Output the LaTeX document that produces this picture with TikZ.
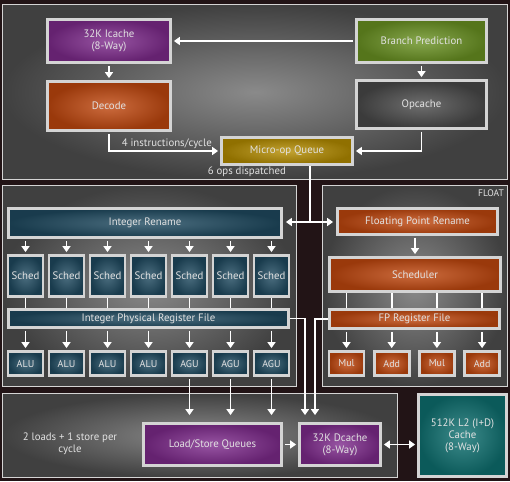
\documentclass[tikz,border=0pt]{standalone}
\usepackage{fontspec}
\setmainfont{PT Sans}
\usetikzlibrary{arrows.meta,calc}

\definecolor{bgdark}{HTML}{221416}
\definecolor{panelin}{HTML}{8A8A8A}
\definecolor{panelout}{HTML}{404040}
\definecolor{framecol}{HTML}{D4D4D4}
\definecolor{txtcol}{HTML}{E2E2E2}
\definecolor{purp}{HTML}{7E2A8C}
\definecolor{grn}{HTML}{6A9222}
\definecolor{orng}{HTML}{C0470E}
\definecolor{opcgray}{HTML}{4A4A4A}
\definecolor{gold}{HTML}{B48C00}
\definecolor{intblue}{HTML}{1F4A60}
\definecolor{ltwoteal}{HTML}{0E7070}

\begin{document}
\begin{tikzpicture}[x=1pt, y=-1pt, font=\fontsize{10.8}{12}\selectfont,
    block/.style={rectangle, draw=framecol, line width=2.8pt, text=txtcol, inner sep=1pt, align=center, inner color=#1!80!white, outer color=#1!80!black},
    panel/.style={rectangle, draw=framecol, line width=1.4pt, inner color=panelin, outer color=panelout},
    sched/.style={block=intblue, minimum width=35pt, minimum height=41pt},
    unit/.style={block=#1, minimum width=35pt, minimum height=24pt, font=\fontsize{10}{11}\selectfont},
    lbl/.style={text=txtcol, inner sep=1pt},
    link/.style={draw=white, line width=1.8pt},
    arr/.style={link, shorten <=2pt, shorten >=2pt, -{Triangle[length=6pt,width=8pt]}},
    darr/.style={link, shorten <=2pt, shorten >=2pt, {Triangle[length=6pt,width=8pt]}-{Triangle[length=6pt,width=8pt]}}]
  \fill[bgdark] (0,0) rectangle (510,481);
  \useasboundingbox (0,0) rectangle (510,481);

  % panels
  \node[panel, minimum width=505pt, minimum height=175pt] (frontpanel) at (255,92) {};
  \node[panel, minimum width=294pt, minimum height=201pt] (intpanel) at (149.5,286) {};
  \node[panel, minimum width=185pt, minimum height=201pt] (fppanel) at (415,286) {};
  \node[panel, minimum width=395pt, minimum height=84pt] (mempanel) at (200,435.5) {};
  \node[lbl, anchor=north east, font=\fontsize{9.5}{10}\selectfont] (floatlbl) at (505,189) {FLOAT};

  % front end
  \node[block=purp, minimum width=123pt, minimum height=43pt] (icache) at (109,41) {32K Icache\\(8-Way)};
  \node[block=grn, minimum width=130pt, minimum height=43pt] (bpred) at (421.5,41) {Branch Prediction};
  \node[block=orng, minimum width=123pt, minimum height=49pt] (decode) at (109,106) {Decode};
  \node[block=opcgray, minimum width=130pt, minimum height=48pt] (opc) at (421.5,104.5) {Opcache};
  \node[block=gold, minimum width=131pt, minimum height=27pt] (uq) at (287,151) {Micro-op Queue};
  \node[lbl, anchor=north east] (ops) at (uq.south) {6 ops dispatched};
  \coordinate (split) at (310,222);

  \draw[arr] (bpred.west) -- (icache.east);
  \draw[arr] (icache.south) -- (decode.north);
  \draw[arr] (bpred.south) -- (opc.north);
  \draw[arr] (decode.south) |- node[lbl, above, pos=0.76] {4 instructions/cycle} (uq.west);
  \draw[arr] (opc.south) |- (uq.east);

  % integer
  \node[block=intblue, minimum width=273pt, minimum height=29pt] (irn) at (145,223) {Integer Rename};
  \node[block=intblue, minimum width=280pt, minimum height=18pt] (iprf) at (148.5,318.5) {Integer Physical Register File};
  \begin{scope}[node distance=41pt]
    \node[sched] (s1) at (25.5,276) {Sched};
    \node[sched, right of=s1] (s2) {Sched};
    \node[sched, right of=s2] (s3) {Sched};
    \node[sched, right of=s3] (s4) {Sched};
    \node[sched, right of=s4] (s5) {Sched};
    \node[sched, right of=s5] (s6) {Sched};
    \node[sched, right of=s6] (s7) {Sched};
    \node[unit=intblue] (a1) at (25.5,363.5) {ALU};
    \node[unit=intblue, right of=a1] (a2) {ALU};
    \node[unit=intblue, right of=a2] (a3) {ALU};
    \node[unit=intblue, right of=a3] (a4) {ALU};
    \node[unit=intblue, right of=a4] (g1) {AGU};
    \node[unit=intblue, right of=g1] (g2) {AGU};
    \node[unit=intblue, right of=g2] (g3) {AGU};
  \end{scope}
  \foreach \s/\u in {s1/a1, s2/a2, s3/a3, s4/a4, s5/g1, s6/g2, s7/g3} {
    \draw[arr] (\s.north |- irn.south) -- (\s.north);
    \draw[link] (\s.south) -- (\s.south |- iprf.north);
    \draw[arr] (\u.north |- iprf.south) -- (\u.north);
  }

  % float
  \node[block=orng, minimum width=160pt, minimum height=26pt] (frn) at (417.5,221.5) {Floating Point Rename};
  \node[block=orng, minimum width=171pt, minimum height=34pt] (fsch) at (415,274.5) {Scheduler};
  \node[block=orng, minimum width=170pt, minimum height=19pt] (fprf) at (414.5,319) {FP Register File};
  \begin{scope}[node distance=45.2pt]
    \node[unit=orng] (m1) at (346.5,363.5) {Mul};
    \node[unit=orng, right of=m1] (d1) {Add};
    \node[unit=orng, right of=d1] (m2) {Mul};
    \node[unit=orng, right of=m2] (d2) {Add};
  \end{scope}
  \draw[arr] (frn.south -| fsch.north) -- (fsch.north);
  \foreach \u in {m1, d1, m2, d2} {
    \draw[link] (\u.north |- fsch.south) -- (\u.north |- fprf.north);
    \draw[arr] (\u.north |- fprf.south) -- (\u.north);
  }

  % dispatch to both renames
  \draw[link] (uq.south -| split) -- (split);
  \draw[arr, shorten <=0pt, shorten >=3pt] (split) -- (split -| irn.east);
  \draw[arr, shorten <=0pt, shorten >=3pt] (split) -- (split -| frn.west);

  % load/store
  \node[lbl, align=center] (ldst) at (70,444) {2 loads + 1 store per\\cycle};
  \node[block=purp, minimum width=138pt, minimum height=42pt] (lsq) at (212.5,444.5) {Load/Store Queues};
  \node[block=purp, minimum width=81pt, minimum height=42pt] (dc) at (340,444.5) {32K Dcache\\(8-Way)};
  \node[block=ltwoteal, minimum width=88pt, minimum height=82pt] (l2) at (462.5,435.5) {512K L2 (I+D)\\Cache\\(8-Way)};

  \foreach \g in {g1, g2, g3}
    \draw[arr, shorten >=7pt] (\g.south) -- (\g.south |- lsq.north);
  \draw[arr, shorten <=0pt, shorten >=7pt] (iprf.east) -| ([xshift=-35pt]dc.north);
  \draw[arr, shorten <=0pt, shorten >=7pt] (fprf.west) -| ([xshift=-25pt]dc.north);
  \draw[arr] (lsq.east) -- (dc.west);
  \draw[darr] (dc.east) -- (dc.east -| l2.west);
\end{tikzpicture}
\end{document}
